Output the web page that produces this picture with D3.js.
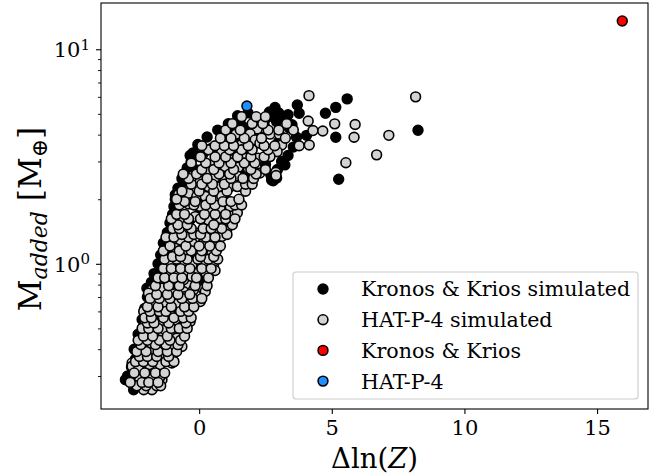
<!DOCTYPE html>
<html>
<head>
<meta charset="utf-8">
<script src="https://cdn.jsdelivr.net/npm/d3@7"></script>
<style>
  html, body { margin: 0; padding: 0; background: #fff; }
  svg { display: block; }
  text { font-family: "DejaVu Serif", serif; fill: #000; }
</style>
</head>
<body>
<svg id="chart" width="663" height="476"></svg>
<script>
// Simulated Kronos & Krios systems: [Δln(Z), M_added]
const kronosSim = [
  [5.58,5.87],[5.15,5.36],[4.76,5.03],[3.70,5.50],[3.77,5.03],[2.86,5.35],[2.79,4.94],
  [3.27,4.69],[2.92,4.60],[8.25,4.19],[5.15,3.89],[3.67,3.89],[4.05,3.97],[5.26,2.48],
  [3.23,2.89],[2.79,2.44],[1.54,4.68],[1.47,4.54],[1.65,4.35],[1.84,5.05],[0.16,3.28],
  [-0.23,3.29],[0.48,3.46],[-0.09,2.69],[-0.59,2.38],[3.11,3.00],[2.92,2.51],[2.73,2.46],
  [0.58,3.46],[-0.09,2.74],[-0.90,2.10],[-0.99,1.49],[-1.21,1.16],[-1.40,0.94],
  [-1.28,1.17],[-1.34,1.01],[-1.47,0.905],[-1.97,0.77],[-1.03,1.52],[-0.78,1.63],
  [-2.78,0.288],[-2.47,0.259],[-2.09,0.493],[-2.15,0.427],[-1.97,0.60],[-1.84,0.656],
  [-1.6,0.50],[-1.2,0.70],[-0.8,0.95],[-0.4,1.30],[0.0,1.70],[0.3,2.20],[0.8,2.60],
  [1.2,3.30],[1.6,3.80],[2.0,4.30],[-2.3,0.31],[-1.9,0.38],[-0.3,1.10],[0.5,1.50],
  [1.0,2.00],[0.1,0.85],[0.5,1.15],[-1.0,0.60],[-0.6,0.75],[-1.7,0.45],[2.4,3.60],
  [1.9,3.20],[1.3,4.10],[2.2,3.90],[3.4,4.30],[3.0,3.70],[2.5,2.90],[1.7,2.60],
  [-2.4,0.36],[-2.6,0.30],[-1.12,0.80],[-0.70,1.20],[-0.35,1.60],[0.20,1.95],
  [0.65,2.40],[1.05,2.85],[-2.0,0.33],[-1.45,0.55],[-1.75,0.29],[-1.15,0.40],
  [-2.70,0.30],[-2.55,0.33],[-2.45,0.40],[-2.30,0.47],[-2.15,0.55],[-2.05,0.62],
  [-1.95,0.70],[-1.80,0.82],[-1.70,0.90],[-1.55,1.00],[-1.45,1.10],[-1.35,1.25],
  [-1.20,1.40],[-1.10,1.55],[-1.00,1.70],[-0.95,1.85],[-0.90,2.00],[-0.80,2.25],
  [-0.65,2.50],[-0.45,2.80],[-0.30,3.00],[-0.34,3.20],[-0.05,3.60],[0.30,3.90],
  [0.70,4.20],[1.10,4.50],[1.45,4.90],
  [2.55,4.80],[2.65,5.10],[3.00,5.05],[3.35,4.95],[3.50,4.45],[2.45,4.45],[2.10,4.65],
  [3.55,3.50],[3.35,3.20],[2.95,2.75],[2.70,2.60],[2.60,3.40]
];

// Simulated HAT-P-4 systems: [Δln(Z), M_added]
const hatSim = [
  [4.14,6.08],[8.16,6.00],[4.11,4.63],[5.11,4.49],[5.88,4.46],[4.29,4.18],[4.66,4.16],
  [5.84,3.89],[7.15,3.97],[3.77,3.55],[4.15,3.58],[6.69,3.22],[5.53,2.96],[2.67,4.02],
  [3.02,4.02],[3.11,3.58],[2.94,3.33],[2.67,3.16],[2.89,2.67],[2.90,2.58],[2.29,2.65],
  [2.36,4.30],
  [2.19,4.25],[1.39,4.02],[1.92,4.03],[2.11,3.78],[1.06,3.75],[1.57,3.58],[2.29,3.65],
  [0.85,3.33],[1.23,3.05],[1.73,3.11],[2.23,3.11],[0.54,2.89],[0.98,2.84],[1.48,2.82],
  [1.85,2.79],[0.26,2.69],[0.60,2.53],[0.98,2.44],[1.42,2.57],[0.04,2.42],[0.35,2.29],
  [0.73,2.28],[1.17,2.29],[1.44,2.29],[-0.78,2.10],[-0.40,2.13],[-0.09,2.06],[0.23,2.06],
  [0.85,2.07],
  [-0.40,1.90],[0.04,1.85],[0.39,1.78],[0.79,1.82],[1.17,1.85],[1.44,1.73],[-0.15,1.66],
  [0.35,1.60],[0.79,1.63],[1.17,1.55],[-0.65,1.57],[-0.53,1.41],[-0.09,1.39],[0.31,1.41],
  [0.67,1.41],[1.04,1.44],[0.85,1.34],[-0.71,1.29],[-0.27,1.25],[0.16,1.25],[0.54,1.27],
  [-0.90,1.18],[-0.49,1.12],[-0.09,1.12],[0.29,1.12],[-0.65,1.01],[-1.09,1.02],[-0.27,0.99],
  [0.14,1.01],[0.54,0.98],[-0.90,0.92],[-0.53,0.89],[-0.06,0.905],[0.26,0.905],[-1.21,0.84],
  [-0.86,0.83],[-0.40,0.80],[-1.78,0.757],[-1.40,0.77],[-0.97,0.757],[-0.59,0.743],
  [-0.21,0.757],[0.16,0.763],
  [0.60,0.93],[0.23,0.743],[0.04,0.667],[0.48,1.12],[-1.91,0.73],[-1.03,0.80],[-0.59,0.842],
  [-0.27,0.873],[-0.53,0.704],[-1.15,0.589],[-0.84,0.539],
  [-1.72,0.644],[-1.28,0.656],[-0.78,0.656],[-0.40,0.66],[-1.12,0.593],[-0.56,0.573],
  [-2.03,0.538],[-1.53,0.525],[-0.78,0.525],[-0.34,0.538],[-1.36,0.472],[-0.97,0.476],
  [-0.59,0.476],[-1.84,0.427],[-1.40,0.427],[-1.03,0.405],[-0.65,0.412],[-1.84,0.386],
  [-1.40,0.377],[-0.97,0.351],[-2.28,0.345],[-2.53,0.345],[-1.87,0.339],[-1.47,0.339],
  [-2.24,0.327],[-1.74,0.294],[-1.40,0.288],[-2.24,0.290],[-1.78,0.259],[-2.09,0.259],
  [-2.53,0.333],[-2.28,0.321],[-1.84,0.298],[-1.47,0.298],[-1.03,0.345],[-0.84,0.451],
  [-1.28,0.493],[-0.65,0.51],[-2.09,0.600],
  [-2.35,0.27],[-2.00,0.27],[-1.60,0.27],[-1.45,0.27],[-2.60,0.28],[-2.15,0.28],[-1.90,0.28],
  [-1.55,0.28],[-2.45,0.31],[-2.05,0.31],[-1.65,0.31],[-1.30,0.31],[-2.40,0.35],[-2.10,0.35],
  [-1.75,0.35],[-1.25,0.35],[-0.95,0.35],[-2.25,0.37],[-1.95,0.37],[-1.60,0.37],[-1.15,0.37],
  [-2.35,0.39],[-2.00,0.39],[-1.55,0.39],[-1.20,0.39],[-0.85,0.39],[-2.20,0.42],[-1.65,0.42],
  [-1.25,0.42],[-0.80,0.42],[-2.30,0.44],[-1.95,0.44],[-1.50,0.44],[-1.10,0.44],[-0.70,0.44],
  [-2.10,0.46],[-1.75,0.46],[-1.20,0.46],[-0.55,0.46],[-2.15,0.50],[-1.90,0.50],[-1.55,0.50],
  [-1.05,0.50],[-0.75,0.50],[-0.45,0.50],[-1.95,0.53],[-1.70,0.53],[-1.15,0.53],[-0.50,0.53],
  [-2.05,0.56],[-1.80,0.56],[-1.35,0.56],[-0.95,0.56],[-0.60,0.56],[-0.30,0.56],[-1.85,0.60],
  [-1.50,0.60],[-1.25,0.60],[-0.70,0.60],[-0.40,0.60],[-1.95,0.63],[-1.55,0.63],[-1.05,0.63],
  [-0.55,0.63],[-0.20,0.63],[-1.85,0.69],[-1.50,0.69],[-1.10,0.69],[-0.65,0.69],[-0.25,0.69],
  [0.10,0.69],[-1.60,0.72],[-1.20,0.72],[-0.80,0.72],[-0.35,0.72],[-1.65,0.79],[-1.15,0.79],
  [-0.75,0.79],[-0.15,0.79],[0.30,0.79],[-1.55,0.86],[-1.30,0.86],[-0.95,0.86],[-0.65,0.86],
  [-0.10,0.86],[0.35,0.86],[-1.35,0.95],[-1.05,0.95],[-0.70,0.95],[-0.35,0.95],[0.10,0.95],
  [0.45,0.95],[-1.30,1.05],[-0.85,1.05],[-0.45,1.05],[-0.05,1.05],[0.35,1.05],[0.70,1.05],
  [-1.00,1.08],[-0.70,1.08],[0.05,1.08],[0.55,1.08],[-1.35,1.15],[-0.75,1.15],[-0.30,1.15],
  [0.10,1.15],[0.65,1.15],[-1.10,1.21],[-0.50,1.21],[0.00,1.21],[0.40,1.21],[0.80,1.21],
  [-1.25,1.33],[-0.95,1.33],[-0.40,1.33],[0.25,1.33],[0.60,1.33],[-0.65,1.37],[-0.20,1.37],
  [0.05,1.37],[1.05,1.37],[-1.00,1.46],[-0.75,1.46],[-0.30,1.46],[0.15,1.46],[0.45,1.46],
  [0.85,1.46],[-0.80,1.52],[-0.45,1.52],[0.55,1.52],[1.25,1.52],[-1.05,1.62],[-0.40,1.62],
  [0.05,1.62],[1.00,1.62],[1.35,1.62],[-0.85,1.70],[-0.55,1.70],[0.20,1.70],[0.60,1.70],
  [1.00,1.70],[-0.75,1.88],[-0.20,1.88],[0.25,1.88],[0.60,1.88],[1.35,1.88],[1.60,1.88],
  [-0.55,1.95],[-0.15,1.95],[0.90,1.95],[1.20,1.95],[-0.85,2.00],[0.45,2.00],[1.50,2.00],
  [-0.65,2.18],[0.00,2.18],[0.55,2.18],[1.05,2.18],[1.75,2.18],[-0.30,2.35],[0.10,2.35],
  [0.50,2.35],[0.95,2.35],[1.75,2.35],[2.00,2.35],[-0.40,2.50],[0.30,2.50],[1.20,2.50],
  [1.65,2.50],[2.05,2.50],[-0.60,2.62],[-0.10,2.62],[0.75,2.62],[1.15,2.62],[2.15,2.62],
  [0.10,2.75],[0.55,2.75],[1.30,2.75],[1.95,2.75],[2.50,2.75],[-0.30,2.95],[0.25,2.95],
  [0.75,2.95],[1.20,2.95],[1.70,2.95],[2.10,2.95],[0.05,3.15],[0.60,3.15],[1.00,3.15],
  [1.45,3.15],[1.95,3.15],[2.45,3.15],[0.35,3.40],[1.15,3.40],[1.60,3.40],[2.00,3.40],
  [2.60,3.40],[0.10,3.55],[0.60,3.55],[0.95,3.55],[1.30,3.55],[1.85,3.55],[2.45,3.55],
  [2.85,3.55],[0.80,3.85],[1.20,3.85],[1.70,3.85],[2.35,3.85],[3.25,3.85],[1.00,4.20],
  [1.55,4.20],[2.60,4.20],[3.00,4.20],[3.55,4.20],[1.25,4.50],[2.00,4.50],[2.40,4.50],
  [3.30,4.50],[1.60,4.85],[2.15,4.85],[2.50,4.85]
];

// Observed systems
const kronos = [[15.95,13.55]];
const hat = [[1.80,5.44]];

const legendLabels = ["Kronos & Krios simulated", "HAT-P-4 simulated", "Kronos & Krios", "HAT-P-4"];
const xTicks = [0, 5, 10, 15];
const yMajor = [1, 10];
const yMinor = [0.3, 0.4, 0.5, 0.6, 0.7, 0.8, 0.9, 2, 3, 4, 5, 6, 7, 8, 9];

const series = [
  { label: legendLabels[0], data: kronosSim, fill: "#000000" },
  { label: legendLabels[1], data: hatSim,    fill: "#d3d3d3" },
  { label: legendLabels[2], data: kronos,    fill: "#ff0000" },
  { label: legendLabels[3], data: hat,       fill: "#1e90ff" }
];

const svg = d3.select("#chart");
const plot = { left: 101, right: 648, top: 3, bottom: 409 };

const x = d3.scaleLinear().domain([-3.70, 16.92]).range([plot.left, plot.right]);
const y = d3.scaleLog().domain([0.2105, 16.43]).range([plot.bottom, plot.top]);

// Points
const R = 4.9;
const pts = svg.append("g");
series.forEach(s => {
  pts.append("g").selectAll("circle").data(s.data).join("circle")
    .attr("cx", d => x(d[0])).attr("cy", d => y(d[1])).attr("r", R)
    .attr("fill", s.fill).attr("stroke", "#000").attr("stroke-width", 1.6);
});

// Frame
svg.append("rect")
  .attr("x", plot.left).attr("y", plot.top)
  .attr("width", plot.right - plot.left).attr("height", plot.bottom - plot.top)
  .attr("fill", "none").attr("stroke", "#000").attr("stroke-width", 1.1);

// X axis
const xAxis = svg.append("g").attr("transform", `translate(0,${plot.bottom})`)
  .call(d3.axisBottom(x).tickValues(xTicks).tickSize(5).tickPadding(6).tickFormat(d3.format("d")));
xAxis.select(".domain").remove();
xAxis.selectAll("line").attr("stroke-width", 1.1);
xAxis.selectAll("text").style("font-size", "21px").attr("font-family", "DejaVu Serif");

// Y axis: minor ticks
const yMinorAxis = svg.append("g").attr("transform", `translate(${plot.left},0)`)
  .call(d3.axisLeft(y).tickValues(yMinor).tickSize(3).tickFormat(""));
yMinorAxis.select(".domain").remove();
yMinorAxis.selectAll("line").attr("stroke-width", 0.9);

// Y axis: major ticks with 10^n labels
const yAxis = svg.append("g").attr("transform", `translate(${plot.left},0)`)
  .call(d3.axisLeft(y).tickValues(yMajor).tickSize(5).tickPadding(6).tickFormat(""));
yAxis.select(".domain").remove();
yAxis.selectAll("line").attr("stroke-width", 1.1);
yAxis.selectAll(".tick text").each(function(d) {
  const t = d3.select(this).attr("font-family", "DejaVu Serif").style("font-size", "21px")
    .attr("dy", null).attr("text-anchor", "end");
  t.append("tspan").text("10").attr("dy", "0.36em");
  t.append("tspan").text(String(Math.round(Math.log10(d))))
    .attr("dy", "-0.5em").style("font-size", "15px");
});

// Axis labels
const xl = svg.append("text")
  .attr("x", (plot.left + plot.right) / 2).attr("y", 468)
  .attr("text-anchor", "middle").style("font-size", "27.5px");
xl.append("tspan").text("\u0394ln(");
xl.append("tspan").text("Z").style("font-style", "italic");
xl.append("tspan").text(")");

const yl = svg.append("text")
  .attr("transform", "translate(41,219) rotate(-90)")
  .attr("text-anchor", "middle").style("font-size", "31px");
yl.append("tspan").text("M");
yl.append("tspan").text("added").style("font-style", "italic").style("font-size", "22px").attr("dy", "6");
yl.append("tspan").text(" [M").attr("dy", "-6");
yl.append("tspan").text("\u2295").style("font-size", "22px").attr("dy", "6");
yl.append("tspan").text("]").attr("dy", "-6");

// Legend
const lg = svg.append("g");
lg.append("rect")
  .attr("x", 293).attr("y", 272).attr("width", 345).attr("height", 127)
  .attr("rx", 3).attr("fill", "#fff").attr("fill-opacity", 0.8)
  .attr("stroke", "#cccccc").attr("stroke-width", 1.1);
series.forEach((s, i) => {
  const yy = 289 + i * 30.7;
  lg.append("circle").attr("cx", 323).attr("cy", yy).attr("r", R)
    .attr("fill", s.fill).attr("stroke", "#000").attr("stroke-width", 1.6);
  lg.append("text").attr("x", 361).attr("y", yy).attr("dy", "0.36em")
    .style("font-size", "20.6px").text(s.label);
});
</script>
</body>
</html>
